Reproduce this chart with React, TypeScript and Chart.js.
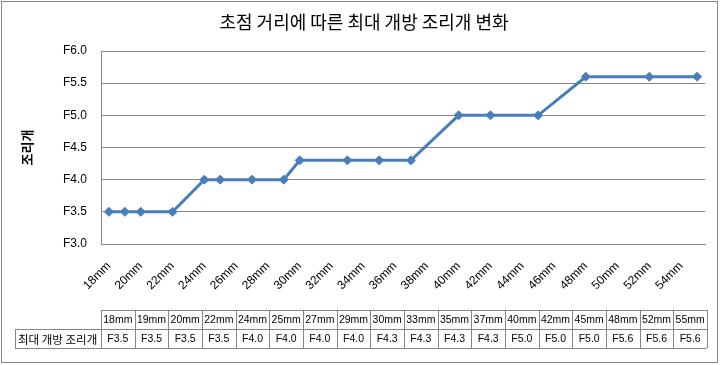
import React, { useEffect, useRef } from 'react';
import { Chart, registerables } from 'chart.js';

Chart.register(...registerables);

const TITLE = '초점 거리에 따른 최대 개방 조리개 변화';
const Y_TITLE = '조리개';
const ROW_LABEL = '최대 개방 조리개';

const focalLengths = [18, 19, 20, 22, 24, 25, 27, 29, 30, 33, 35, 37, 40, 42, 45, 48, 52, 55];
const apertures = [3.5, 3.5, 3.5, 3.5, 4.0, 4.0, 4.0, 4.0, 4.3, 4.3, 4.3, 4.3, 5.0, 5.0, 5.0, 5.6, 5.6, 5.6];
const xTickValues = [18, 20, 22, 24, 26, 28, 30, 32, 34, 36, 38, 40, 42, 44, 46, 48, 50, 52, 54];
const yMin = 3.0;
const yMax = 6.0;
const yStep = 0.5;

const GRAY = '#868686';
const BLUE = '#4A7EBB';
const LATIN = '"Liberation Sans", Arial, sans-serif';
const KR = '"Noto Sans CJK KR", sans-serif';

const fmtF = (v: number) => 'F' + Number(v).toFixed(1);

const decorPlugin = {
  id: 'decor',
  beforeDraw(chart: any) {
    const ctx = chart.ctx;
    ctx.save();
    ctx.fillStyle = '#ffffff';
    ctx.fillRect(0, 0, chart.width, chart.height);
    ctx.strokeStyle = GRAY;
    ctx.lineWidth = 1;
    ctx.strokeRect(1.5, 1.5, 716, 361);
    ctx.restore();
  },
  afterDraw(chart: any) {
    const ctx = chart.ctx;
    const area = chart.chartArea;
    ctx.save();
    // title
    ctx.fillStyle = '#000';
    ctx.font = `18px ${KR}`;
    ctx.textAlign = 'center';
    ctx.textBaseline = 'middle';
    ctx.fillText(TITLE, 364, 22);
    // y title
    ctx.save();
    ctx.translate(27, (area.top + area.bottom) / 2);
    ctx.rotate(-Math.PI / 2);
    ctx.font = `bold 13px ${KR}`;
    ctx.fillText(Y_TITLE, 0, 0);
    ctx.restore();

    // data table
    const n = focalLengths.length;
    const left = area.left;
    const right = area.right + 2;
    const colW = (right - left) / n;
    const r0 = 310;
    const r1 = 329;
    const r2 = 348;
    const labelLeft = 15;
    ctx.strokeStyle = GRAY;
    ctx.lineWidth = 1;
    ctx.beginPath();
    ctx.moveTo(left, r0 + 0.5);
    ctx.lineTo(right, r0 + 0.5);
    ctx.moveTo(labelLeft, r1 + 0.5);
    ctx.lineTo(right, r1 + 0.5);
    ctx.moveTo(labelLeft, r2 + 0.5);
    ctx.lineTo(right, r2 + 0.5);
    ctx.moveTo(labelLeft + 0.5, r1);
    ctx.lineTo(labelLeft + 0.5, r2);
    for (let i = 0; i <= n; i++) {
      const x = Math.round(left + i * colW) + 0.5;
      ctx.moveTo(x, r0);
      ctx.lineTo(x, r2);
    }
    ctx.stroke();

    ctx.fillStyle = '#000';
    ctx.textBaseline = 'middle';
    ctx.textAlign = 'center';
    ctx.font = `10.5px ${LATIN}`;
    for (let i = 0; i < n; i++) {
      const cx = left + (i + 0.5) * colW;
      ctx.fillText(focalLengths[i] + 'mm', cx, (r0 + r1) / 2 + 1);
      ctx.fillText(fmtF(apertures[i]), cx, (r1 + r2) / 2 + 1);
    }
    ctx.textAlign = 'left';
    ctx.font = `11.5px ${KR}`;
    ctx.fillText(ROW_LABEL, labelLeft + 3, (r1 + r2) / 2 + 1);
    ctx.restore();
  },
};

export default function App() {
  const ref = useRef<HTMLCanvasElement | null>(null);

  useEffect(() => {
    if (!ref.current) return;
    const chart = new Chart(ref.current, {
      type: 'line',
      data: {
        datasets: [
          {
            label: ROW_LABEL,
            data: focalLengths.map((f, i) => ({ x: f, y: apertures[i] })),
            borderColor: BLUE,
            backgroundColor: BLUE,
            borderWidth: 3,
            pointStyle: 'rectRot',
            pointRadius: 4.5,
            pointBorderWidth: 1,
            pointBackgroundColor: BLUE,
            pointBorderColor: BLUE,
            tension: 0,
          },
        ],
      },
      options: {
        animation: false,
        responsive: false,
        devicePixelRatio: 1,
        layout: { padding: { top: 51, right: 18, left: 0, bottom: 0 } },
        plugins: {
          legend: { display: false },
          title: { display: false },
          tooltip: { enabled: false },
        },
        scales: {
          x: {
            type: 'linear',
            min: focalLengths[0] - 0.5,
            max: focalLengths[focalLengths.length - 1] + 0.5,
            afterBuildTicks: (scale: any) => {
              scale.ticks = xTickValues.map((value) => ({ value }));
            },
            afterFit: (scale: any) => {
              scale.height = 121;
            },
            grid: { display: true, drawOnChartArea: false, drawTicks: false },
            border: { display: true, color: GRAY, width: 1 },
            ticks: {
              autoSkip: false,
              maxRotation: 45,
              minRotation: 45,
              padding: 15,
              color: '#000',
              font: { family: LATIN, size: 12 },
              callback: (v: any) => v + 'mm',
            },
          },
          y: {
            min: yMin,
            max: yMax,
            afterFit: (scale: any) => {
              scale.width = 101;
            },
            grid: { color: GRAY, drawTicks: false, lineWidth: 1 },
            border: { display: true, color: GRAY, width: 1 },
            ticks: {
              stepSize: yStep,
              padding: 14,
              color: '#000',
              font: { family: LATIN, size: 12 },
              callback: (v: any) => fmtF(v),
            },
          },
        },
      },
      plugins: [decorPlugin],
    });
    return () => chart.destroy();
  }, []);

  return (
    <div style={{ position: 'absolute', left: 0, top: 0, width: 723, height: 365, background: '#fff' }}>
      <canvas ref={ref} width={723} height={365} />
    </div>
  );
}
